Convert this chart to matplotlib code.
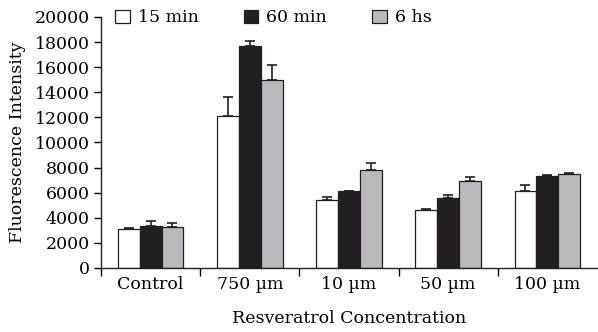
import matplotlib.pyplot as plt
import numpy as np

groups = ["Control", "750 µm", "10 µm", "50 µm", "100 µm"]
series = ["15 min", "60 min", "6 hs"]
vals_15 = [3100, 12100, 5400, 4620, 6100]
vals_60 = [3350, 17650, 6100, 5550, 7330]
vals_6h = [3250, 15000, 7820, 6900, 7500]
err_15 = [100, 1500, 250, 100, 480]
err_60 = [420, 450, 0, 250, 50]
err_6h = [320, 1150, 580, 370, 100]

colours = ["#ffffff", "#231f20", "#b9babd"]
FS = 12.5

plt.rcParams["font.family"] = ["DejaVu Serif"]

fig = plt.figure(figsize=(5.98, 3.32), dpi=100)
ax = fig.add_axes([0.169, 0.193, 0.829, 0.756])

x = np.arange(len(groups))
w = 0.22
for i, (vals, errs) in enumerate(zip([vals_15, vals_60, vals_6h], [err_15, err_60, err_6h])):
    ax.bar(x + (i - 1) * w, vals, w, color=colours[i], edgecolor="#231f20",
           linewidth=0.9, label=series[i],
           yerr=[np.zeros(len(errs)), errs], capsize=3.5,
           error_kw=dict(ecolor="#231f20", elinewidth=1.2, capthick=1.2))

ax.set_xlim(-0.5, len(groups) - 0.5)
ax.set_ylim(0, 20000)
ax.set_yticks(np.arange(0, 20001, 2000))
ax.set_xticks(x)
ax.set_xticklabels(groups)
ax.set_xticks(np.arange(-0.5, len(groups) - 0.5, 1), minor=True)
ax.tick_params(axis="x", which="major", length=0, labelsize=FS, pad=6)
ax.tick_params(axis="x", which="minor", length=6, width=1, direction="out")
ax.tick_params(axis="y", length=5, width=1, direction="out", labelsize=FS, pad=3)

for s in ["top", "right"]:
    ax.spines[s].set_visible(False)
for s in ["left", "bottom"]:
    ax.spines[s].set_color("#231f20")
    ax.spines[s].set_linewidth(1)

ax.set_ylabel("Fluorescence Intensity", fontsize=FS, labelpad=6)
ax.set_xlabel("Resveratrol Concentration", fontsize=FS, labelpad=12)

ax.legend(loc="center left", bbox_to_anchor=(115 / 598, 1 - 18 / 332),
          bbox_transform=fig.transFigure, ncol=3, frameon=False, borderpad=0,
          borderaxespad=0, fontsize=FS, handlelength=0.85, handleheight=0.85,
          handletextpad=0.45, columnspacing=2.6)

fig.savefig("out.png", dpi=100)
